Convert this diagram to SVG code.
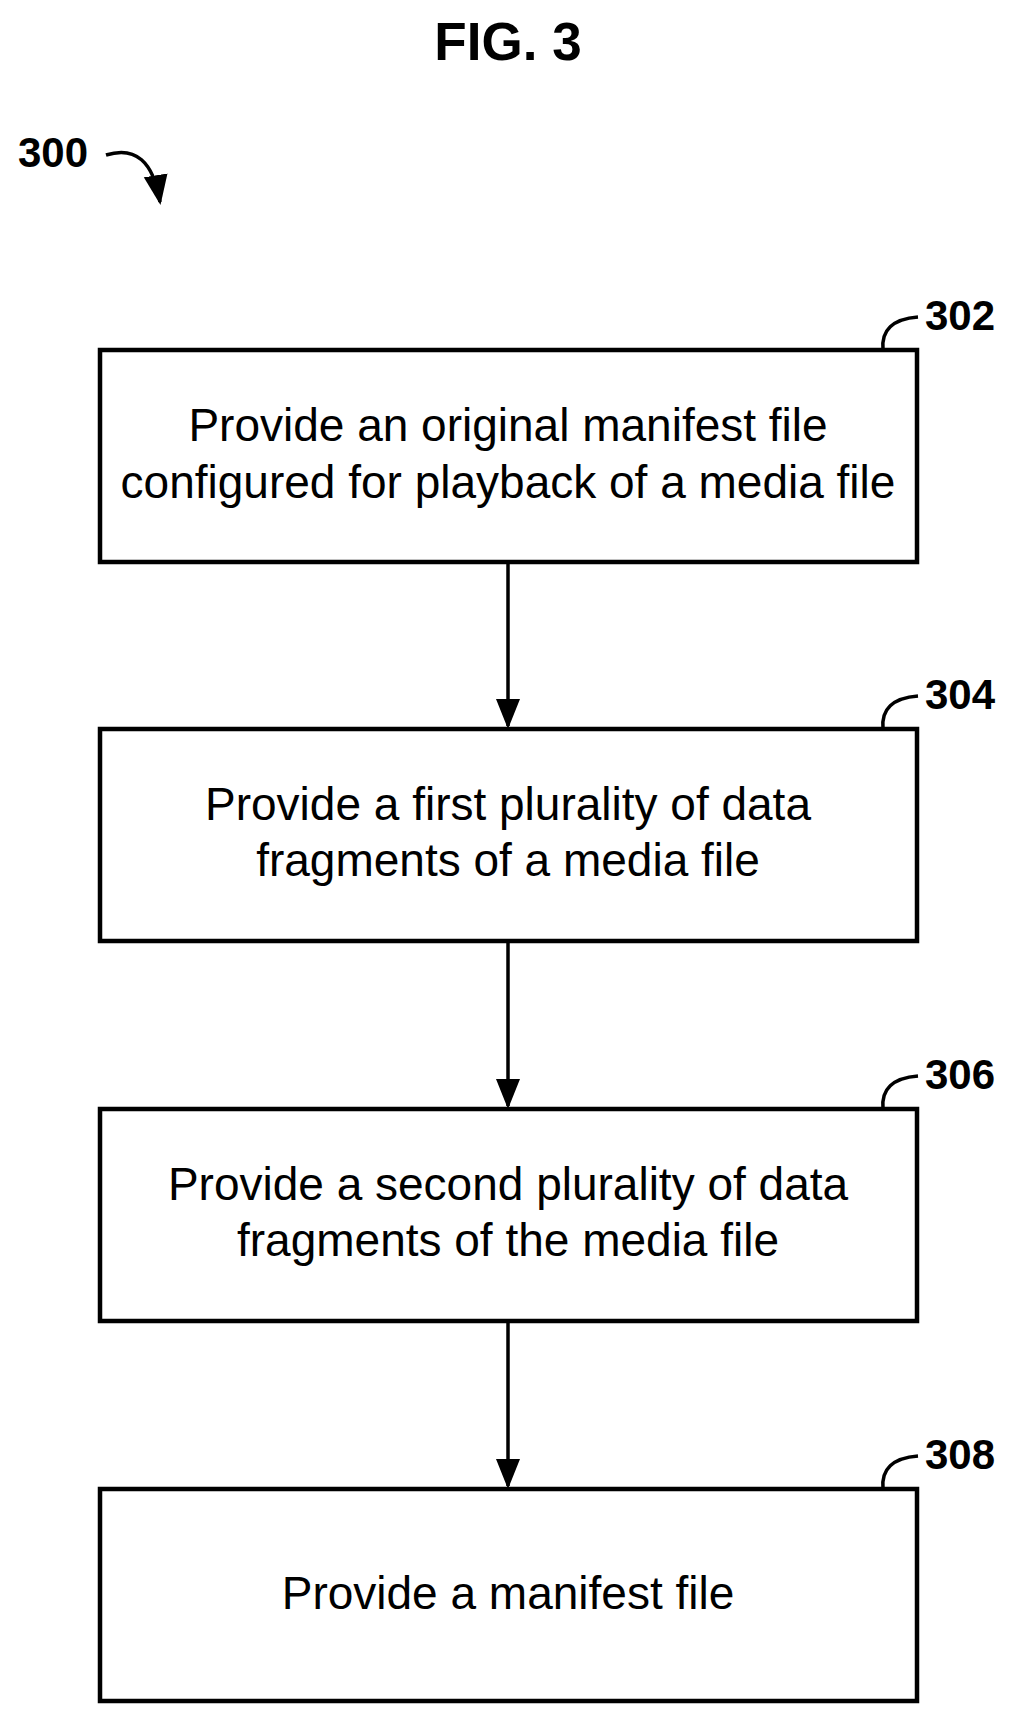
<svg xmlns="http://www.w3.org/2000/svg" width="1027" height="1726" viewBox="0 0 1027 1726">
<style>
.b{fill:#fff;stroke:#000;stroke-width:4.5}
.t{font-family:"Liberation Sans",Arial,sans-serif;font-size:46px;text-anchor:middle}
.n{font-family:"Liberation Sans",Arial,sans-serif;font-size:42px;font-weight:bold}
.c{fill:none;stroke:#000;stroke-width:3.5}
</style>
<defs>
<marker id="ah" viewBox="0 0 10 10" refX="9" refY="5" markerWidth="30" markerHeight="30" markerUnits="userSpaceOnUse" orient="auto"><path d="M0,1 L10,5 L0,9 z"/></marker></defs>
<text x="508" y="60" font-family="Liberation Sans,Arial,sans-serif" font-size="53" font-weight="bold" text-anchor="middle">FIG. 3</text>
<text class="n" x="18" y="167">300</text>
<path class="c" d="M106,155 Q150,141 160,202" marker-end="url(#ah)"/>
<g id="n302"><rect class="b" x="100" y="350" width="817" height="212"/><text class="t" x="508" y="441">Provide an original manifest file</text><text class="t" x="508" y="498">configured for playback of a media file</text><path class="c" d="M883,350 Q880,320 918,317"/><text class="n" x="925" y="330">302</text></g>
<g id="n304"><rect class="b" x="100" y="729" width="817" height="212"/><text class="t" x="508" y="820">Provide a first plurality of data</text><text class="t" x="508" y="876">fragments of a media file</text><path class="c" d="M883,729 Q880,699 918,696"/><text class="n" x="925" y="709">304</text></g>
<g id="n306"><rect class="b" x="100" y="1109" width="817" height="212"/><text class="t" x="508" y="1200">Provide a second plurality of data</text><text class="t" x="508" y="1256">fragments of the media file</text><path class="c" d="M883,1109 Q880,1079 918,1076"/><text class="n" x="925" y="1089">306</text></g>
<g id="n308"><rect class="b" x="100" y="1489" width="817" height="212"/><text class="t" x="508" y="1609">Provide a manifest file</text><path class="c" d="M883,1489 Q880,1459 918,1456"/><text class="n" x="925" y="1469">308</text></g>
<g id="connectors" fill="none" stroke="#000" stroke-width="3.5">
<path d="M508,564 V726" marker-end="url(#ah)"/>
<path d="M508,943 V1106" marker-end="url(#ah)"/>
<path d="M508,1323 V1486" marker-end="url(#ah)"/>
</g>
</svg>
